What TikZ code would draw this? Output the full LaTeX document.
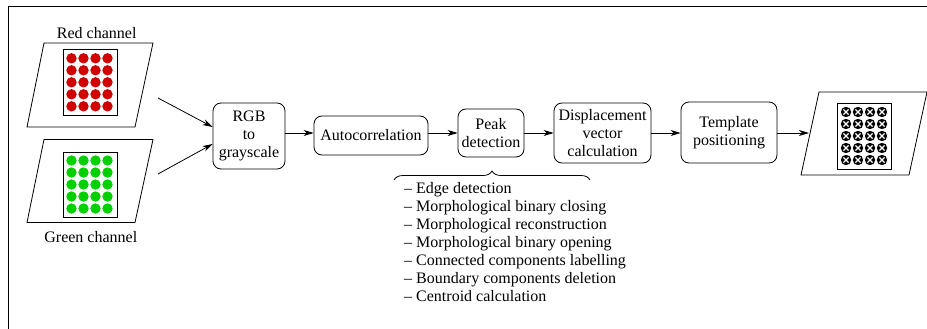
\documentclass[tikz,border=0pt]{standalone}
\usepackage{fontspec}
\setmainfont{Liberation Serif}
\newfontfamily\diagfont{Liberation Serif}
\usetikzlibrary{arrows.meta,decorations.pathreplacing}
\definecolor{dotred}{RGB}{208,0,0}
\definecolor{dotgreen}{RGB}{0,208,0}
\begin{document}
\begin{tikzpicture}[x=1pt,y=-1pt,
  font=\diagfont\fontsize{16}{18}\selectfont,
  proc/.style={draw, line width=0.8pt, rounded corners=8pt, align=center, inner sep=0pt},
  arr/.style={line width=0.8pt, -{Stealth[length=10pt,width=6pt,inset=3pt]}},
  para/.style={line width=0.8pt},
  grid/.style={line width=0.9pt},
  lbl/.style={inner sep=0pt}]
\useasboundingbox (0,0) rectangle (927,329);
% frame
\draw[line width=1pt] (927,7) -- (8,7) -- (8,329);

% red channel
\node[lbl] (redlbl) at (96.7,33.5) {Red channel};
\draw[para] (44,43) -- (153,43) -- (135,127) -- (27,127) -- cycle;
\draw[grid] (63,49) rectangle (117,115);
\foreach \i in {0,...,3}
  \foreach \j in {0,...,4}
    \fill[dotred] (71.5+12*\i,58.3+12*\j) circle (5.2);
\coordinate (redout) at (158,98);

% green channel
\draw[para] (44,139.5) -- (153,139.5) -- (135,222.5) -- (27,222.5) -- cycle;
\draw[grid] (63,152) rectangle (117,217);
\foreach \i in {0,...,3}
  \foreach \j in {0,...,4}
    \fill[dotgreen] (71.5+12*\i,160.5+12*\j) circle (5.2);
\node[lbl] (greenlbl) at (90.8,237) {Green channel};
\coordinate (greenout) at (158,174);

% process boxes
\node[proc, minimum width=72pt, minimum height=66pt] (rgb) at (249,136) {RGB\\to\\grayscale};
\node[proc, minimum width=114pt, minimum height=39pt] (auto) at (371,135.5) {Autocorrelation};
\node[proc, minimum width=66pt, minimum height=48pt] (peak) at (491,133) {Peak\\detection};
\node[proc, minimum width=97pt, minimum height=60pt] (disp) at (602.5,133) {Displacement\\vector\\calculation};
\node[proc, minimum width=96pt, minimum height=61pt] (templ) at (729,132.5) {Template\\positioning};

\coordinate (ay) at (0,133);
\draw[arr] (redout) -- ([yshift=9pt]rgb.west);
\draw[arr] (greenout) -- ([yshift=-8pt]rgb.west);
\draw[arr] (rgb.east |- ay) -- (auto.west |- ay);
\draw[arr] (auto.east |- ay) -- (peak.west |- ay);
\draw[arr] (peak.east |- ay) -- (disp.west |- ay);
\draw[arr] (disp.east |- ay) -- (templ.west |- ay);
\coordinate (outin) at (809,133);
\draw[arr] (templ.east |- ay) -- (outin);

% output
\draw[para] (819,92) -- (927,92) -- (909,175) -- (801,175) -- cycle;
\draw[grid] (837,103) rectangle (891,169);
\foreach \i in {0,...,3}
  \foreach \j in {0,...,4} {
    \fill[black] (846+12*\i,112+12*\j) circle (5.2);
    \draw[white, line width=1.1pt] (846+12*\i-2.6,112+12*\j-2.6) -- (846+12*\i+2.6,112+12*\j+2.6)
      (846+12*\i-2.6,112+12*\j+2.6) -- (846+12*\i+2.6,112+12*\j-2.6);
  }

% brace and list
\coordinate (bl) at (394,180);
\coordinate (br) at (590,180);
\draw[line width=0.8pt, decorate, decoration={brace, amplitude=9pt}] (bl) -- (br);
\node[lbl, align=left, anchor=north west] (list) at (404,182) {%
– Edge detection\\
– Morphological binary closing\\
– Morphological reconstruction\\
– Morphological binary opening\\
– Connected components labelling\\
– Boundary components deletion\\
– Centroid calculation};
\end{tikzpicture}
\end{document}
